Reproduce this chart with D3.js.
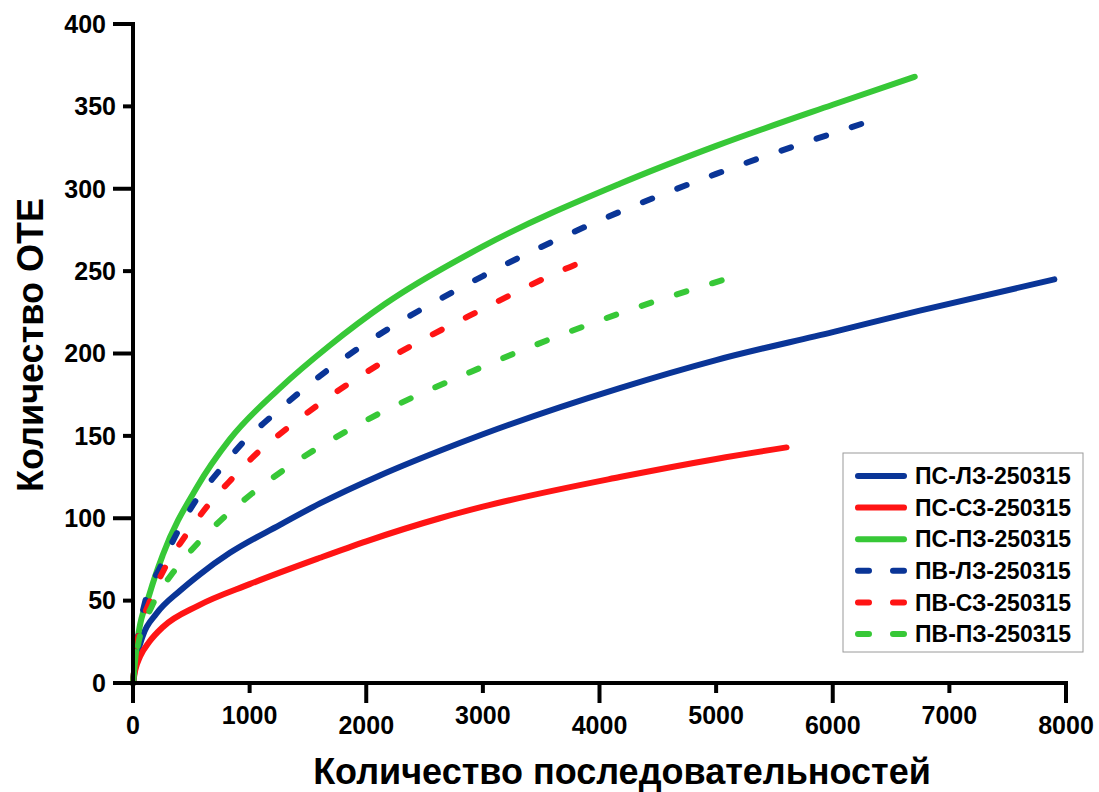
<!DOCTYPE html>
<html lang="ru">
<head>
  <meta charset="UTF-8" />
  <title>Количество ОТЕ</title>
  <script src="https://d3js.org/d3.v7.min.js"></script>
  <style>
    body {
      margin: 0;
      padding: 0;
      background: white;
      font-family: "Liberation Sans", Arial, sans-serif;
    }
    .tick-label {
      font-size: 25px;
      font-weight: bold;
      fill: black;
    }
    .axis-title {
      font-size: 36px;
      font-weight: bold;
      fill: black;
    }
    .legend-text {
      font-size: 23px;
      font-weight: bold;
      fill: black;
    }
  </style>
</head>
<body>
  <svg id="chart" width="1099" height="792"></svg>

  <script>
    // Series names (legend order)
    const seriesNames = ["ПС-ЛЗ-250315", "ПС-СЗ-250315", "ПС-ПЗ-250315",
                         "ПВ-ЛЗ-250315", "ПВ-СЗ-250315", "ПВ-ПЗ-250315"];
    const seriesColors = ["#0a3597", "#ff1414", "#37c837", "#0a3597", "#ff1414", "#37c837"];
    const seriesDashed = [false, false, false, true, true, true];

    // Values: x = number of sequences, y = number of OTUs
    const psLzX = [0, 30, 86, 200, 403, 574, 831, 1260, 1603, 2117, 2631, 3000, 4174, 5000, 6000, 6746, 7900];
    const psLzY = [0, 15, 29, 42, 56, 66, 79, 96, 109, 126, 141, 151, 179, 196, 213, 226, 245];

    const psSzX = [0, 20, 60, 140, 257, 560, 1000, 1603, 2000, 2631, 3000, 4174, 5000, 5604];
    const psSzY = [0, 8, 16, 25, 34, 47, 60, 76, 86, 100, 107, 125, 136, 143];

    const psPzX = [0, 31, 146, 257, 549, 831, 1260, 1689, 2160, 3000, 4174, 5000, 6000, 6703];
    const psPzY = [0, 22, 55, 78, 119, 148, 179, 205, 230, 265, 303, 326, 351, 368];

    const pvLzX = [0, 30, 103, 231, 377, 531, 729, 943, 1174, 1689, 1929, 3000, 4174, 5000, 6360];
    const pvLzY = [0, 22, 49, 70, 91, 110, 128, 146, 161, 191, 203, 247, 286, 309, 342];

    const pvSzX = [0, 30, 146, 274, 446, 634, 849, 1071, 1329, 1834, 2100, 3000, 3831, 3940];
    const pvSzY = [0, 22, 50, 70, 89, 107, 124, 140, 155, 181, 193, 227, 255, 258];

    const pvPzX = [0, 30, 171, 343, 557, 771, 1020, 1286, 1834, 3000, 4200, 5074];
    const pvPzY = [0, 18, 48, 67, 85, 100, 115, 129, 153, 192, 225, 245];

    const seriesX = [psLzX, psSzX, psPzX, pvLzX, pvSzX, pvPzX];
    const seriesY = [psLzY, psSzY, psPzY, pvLzY, pvSzY, pvPzY];

    // Tick values
    const xTicks = [0, 1000, 2000, 3000, 4000, 5000, 6000, 7000, 8000];
    const yTicks = [0, 50, 100, 150, 200, 250, 300, 350, 400];

    const svg = d3.select("#chart");

    const x = d3.scaleLinear().domain([0, 8000]).range([133, 1066]);
    const y = d3.scaleLinear().domain([0, 400]).range([683, 24]);

    const line = d3.line()
      .x(d => x(d[0]))
      .y(d => y(d[1]))
      .curve(d3.curveMonotoneX);

    // Curves
    seriesNames.forEach((name, i) => {
      const pts = seriesX[i].map((v, j) => [v, seriesY[i][j]]);
      svg.append("path")
        .datum(pts)
        .attr("d", line)
        .attr("fill", "none")
        .attr("stroke", seriesColors[i])
        .attr("stroke-width", 6)
        .attr("stroke-linecap", "round")
        .attr("stroke-dasharray", seriesDashed[i] ? "10,27" : null);
    });

    // Axes lines
    svg.append("line")
      .attr("x1", x(0)).attr("x2", x(0))
      .attr("y1", y(400) - 2).attr("y2", y(0) + 2)
      .attr("stroke", "black").attr("stroke-width", 4);
    svg.append("line")
      .attr("x1", x(0) - 2).attr("x2", x(8000) + 2)
      .attr("y1", y(0)).attr("y2", y(0))
      .attr("stroke", "black").attr("stroke-width", 4);

    // Y ticks: long ones on hundreds, short ones in between
    const yLen = d => (d % 100 === 0 ? 20 : 10);
    svg.selectAll(".y-tick")
      .data(yTicks)
      .join("line")
      .attr("class", "y-tick")
      .attr("x1", d => x(0) - yLen(d))
      .attr("x2", x(0))
      .attr("y1", d => y(d))
      .attr("y2", d => y(d))
      .attr("stroke", "black").attr("stroke-width", 4);

    svg.selectAll(".y-label")
      .data(yTicks)
      .join("text")
      .attr("class", "tick-label y-label")
      .attr("x", d => x(0) - yLen(d) - 7)
      .attr("y", d => y(d))
      .attr("dy", "0.35em")
      .attr("text-anchor", "end")
      .text(d => d);

    // X ticks: long on even thousands, short on odd
    const xLen = d => (d % 2000 === 0 ? 20 : 10);
    svg.selectAll(".x-tick")
      .data(xTicks)
      .join("line")
      .attr("class", "x-tick")
      .attr("x1", d => x(d))
      .attr("x2", d => x(d))
      .attr("y1", y(0))
      .attr("y2", d => y(0) + xLen(d))
      .attr("stroke", "black").attr("stroke-width", 4);

    svg.selectAll(".x-label")
      .data(xTicks)
      .join("text")
      .attr("class", "tick-label x-label")
      .attr("x", d => x(d))
      .attr("y", d => y(0) + xLen(d) + 31)
      .attr("text-anchor", "middle")
      .text(d => d);

    // Axis titles
    svg.append("text")
      .attr("class", "axis-title")
      .attr("x", 622)
      .attr("y", 784)
      .attr("text-anchor", "middle")
      .text("Количество последовательностей");

    svg.append("text")
      .attr("class", "axis-title")
      .attr("transform", "translate(43,345) rotate(-90)")
      .attr("text-anchor", "middle")
      .text("Количество ОТЕ");

    // Legend
    const legend = svg.append("g").attr("transform", "translate(843,453)");
    legend.append("rect")
      .attr("width", 240).attr("height", 199)
      .attr("fill", "white")
      .attr("stroke", "#9a9a9a").attr("stroke-width", 1);

    const rowY = i => 23 + i * 31.6;
    seriesNames.forEach((name, i) => {
      legend.append("line")
        .attr("x1", 15).attr("x2", 61)
        .attr("y1", rowY(i)).attr("y2", rowY(i))
        .attr("stroke", seriesColors[i])
        .attr("stroke-width", 6)
        .attr("stroke-linecap", "round")
        .attr("stroke-dasharray", seriesDashed[i] ? "11,24" : null);
      legend.append("text")
        .attr("class", "legend-text")
        .attr("x", 72)
        .attr("y", rowY(i))
        .attr("dy", "0.36em")
        .text(name);
    });
  </script>
</body>
</html>
